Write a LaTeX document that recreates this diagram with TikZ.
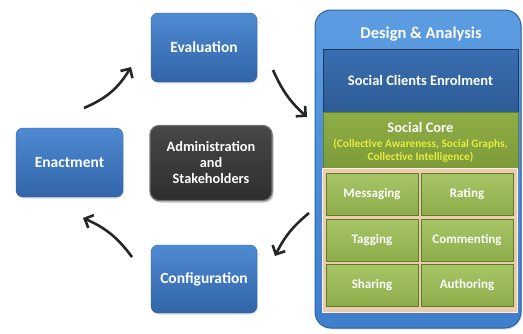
\documentclass[tikz,border=0pt]{standalone}
\usepackage{fontspec}
\setmainfont{Carlito}[BoldFont={Carlito Bold}]
\usetikzlibrary{arrows.meta,shadows,positioning}
\definecolor{bluetop}{HTML}{4E8AD2}
\definecolor{bluebot}{HTML}{3265A8}
\definecolor{blueedge}{HTML}{2F5D99}
\definecolor{outertop}{HTML}{5C9DE2}
\definecolor{outerbot}{HTML}{3F7ECB}
\definecolor{outeredge}{HTML}{2C60A2}
\definecolor{scetop}{HTML}{3A6EB0}
\definecolor{scebot}{HTML}{2D5B96}
\definecolor{coretop}{HTML}{90AE46}
\definecolor{corebot}{HTML}{7C9A38}
\definecolor{coreedge}{HTML}{667F2C}
\definecolor{tan}{HTML}{EBCDAE}
\definecolor{celltop}{HTML}{A7C566}
\definecolor{cellbot}{HTML}{8DAD4B}
\definecolor{celledge}{HTML}{5F7A2A}
\definecolor{subyellow}{HTML}{E6EC3C}
\tikzset{
  phase/.style={rounded corners=7pt, top color=bluetop, bottom color=bluebot, draw=blueedge, line width=0.4pt,
    drop shadow={shadow xshift=1pt,shadow yshift=-1.5pt,opacity=0.25},
    text=white, font=\fontsize{15.5}{18}\selectfont\bfseries, align=center},
  admin/.style={rounded corners=9pt, top color=black!72, bottom color=black!82, draw=black!55, line width=1.2pt,
    drop shadow={shadow xshift=1.5pt,shadow yshift=-2pt,opacity=0.5},
    text=white, font=\fontsize{14.3}{16}\selectfont\bfseries, align=center},
  cell/.style={top color=celltop, bottom color=cellbot, draw=celledge, line width=0.5pt,
    text=white, font=\fontsize{13}{15}\selectfont\bfseries},
  cyc/.style={line width=2.6pt, -{Straight Barb[length=7pt,width=14pt,line width=2.6pt]}, black!85},
}
\begin{document}
\begin{tikzpicture}[x=1pt,y=-1pt]
\useasboundingbox (0,0) rectangle (523,333);
% cycle boxes
\node[phase, minimum width=106pt, minimum height=69pt] (eval) at (204,47.5) {Evaluation};
\node[phase, minimum width=107pt, minimum height=69pt] (enact) at (69.5,162.5) {Enactment};
\node[phase, minimum width=106pt, minimum height=68pt] (config) at (204,279) {Configuration};
\node[admin, minimum width=122pt, minimum height=75pt] (adm) at (211,163) {Administration\\and\\Stakeholders};
% design & analysis panel
\node[rounded corners=16pt, top color=outertop, bottom color=outerbot, draw=outeredge, line width=1pt,
  minimum width=206pt, minimum height=318pt,
  drop shadow={shadow xshift=1pt,shadow yshift=-1.5pt,opacity=0.25}] (design) at (418,169) {};
\node[text=white, font=\fontsize{16.5}{19}\selectfont\bfseries] (dtitle) at (421,34) {Design \& Analysis};
\node[top color=scetop, bottom color=scebot, draw=black!35!scebot, line width=0.5pt,
  minimum width=195pt, minimum height=63pt, text=white, font=\fontsize{14.5}{17}\selectfont\bfseries]
  (sce) at (420.5,80.5) {Social Clients Enrolment};
\node[top color=coretop, bottom color=corebot, draw=coreedge, line width=0.5pt,
  minimum width=195pt, minimum height=56pt] (core) at (420.5,140) {};
\node[text=white, font=\fontsize{14.5}{17}\selectfont\bfseries] (coret) at (420.5,127) {Social Core};
\node[text=subyellow, font=\fontsize{11.3}{12.5}\selectfont\bfseries, align=center] (cores) at (420.5,151)
  {(Collective Awareness, Social Graphs,\\Collective Intelligence)};
\node[fill=tan, draw=white!70!tan, line width=0.8pt, minimum width=195pt, minimum height=144pt] (grid) at (419.5,240) {};
\node[cell, minimum width=92pt, minimum height=42pt] (msg) at (372,194) {Messaging};
\node[cell, minimum width=92pt, minimum height=42pt] (rat) at (467,194) {Rating};
\node[cell, minimum width=92pt, minimum height=42pt] (tag) at (372,240) {Tagging};
\node[cell, minimum width=92pt, minimum height=42pt] (com) at (467,240) {Commenting};
\node[cell, minimum width=92pt, minimum height=42pt] (sha) at (372,285.5) {Sharing};
\node[cell, minimum width=92pt, minimum height=42pt] (aut) at (467,285.5) {Authoring};
% arrow end points
\coordinate (a1s) at (84,108); \coordinate (a1e) at (131,67);
\coordinate (a2s) at (273,70); \coordinate (a2e) at (307,117);
\coordinate (a3s) at (309,213); \coordinate (a3e) at (275,256);
\coordinate (a4s) at (132,257); \coordinate (a4e) at (83,218);
\draw[cyc] (a1s) to[bend right=18] (a1e);
\draw[cyc] (a2s) to[bend right=12] (a2e);
\draw[cyc] (a3s) to[bend right=12] (a3e);
\draw[cyc] (a4s) to[bend right=15] (a4e);
\end{tikzpicture}
\end{document}
